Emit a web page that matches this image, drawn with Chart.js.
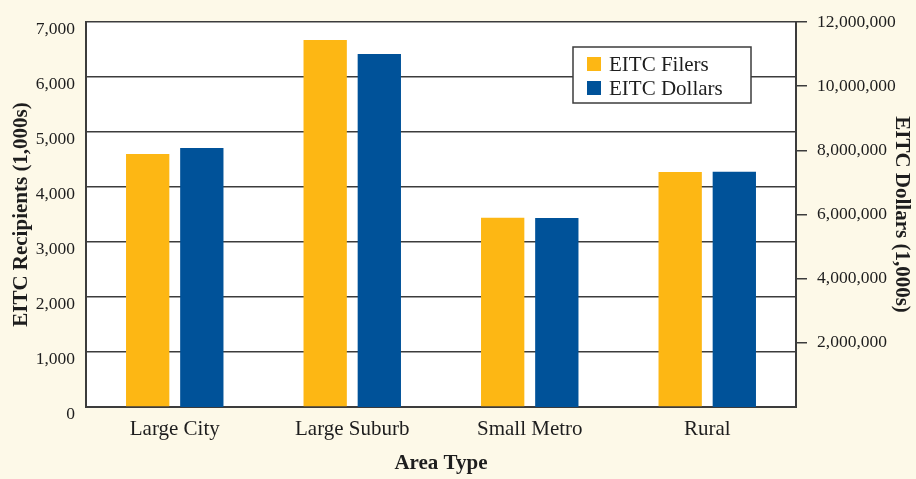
<!DOCTYPE html>
<html>
<head>
<meta charset="utf-8">
<script src="https://cdn.jsdelivr.net/npm/chart.js@4.4.1/dist/chart.umd.min.js"></script>
<style>
  html, body { margin: 0; padding: 0; background: #fdf9e8; }
  #wrap { width: 916px; height: 479px; }
</style>
</head>
<body>
<div id="wrap"><canvas id="myChart" width="916" height="479"></canvas></div>
<script>
/* Data */
const areaTypes = ['Large City', 'Large Suburb', 'Small Metro', 'Rural'];
const filers = [4600, 6675, 3440, 4275];              // 1,000s of recipients
const dollars = [8070000, 11000000, 5890000, 7330000]; // 1,000s of dollars

/* Colors */
let colorGold = '#fdb714';
let colorBlue = '#005299';
let colorLine = '#3c3c3c';
let colorText = '#1e1e1e';
const serif = "'Liberation Serif', 'DejaVu Serif', serif";

// white plot background
const plotBg = {
  id: 'plotBg',
  beforeDraw(chart) {
    const { ctx, chartArea: a } = chart;
    ctx.save();
    ctx.fillStyle = '#ffffff';
    ctx.fillRect(a.left, a.top, a.right - a.left, a.bottom - a.top);
    ctx.restore();
  },
};

// boxed legend inside the plot
const boxLegend = {
  id: 'boxLegend',
  afterDraw(chart) {
    const { ctx } = chart;
    const x = 573, y = 47, w = 178, h = 56;
    ctx.save();
    ctx.fillStyle = '#ffffff';
    ctx.fillRect(x, y, w, h);
    ctx.strokeStyle = colorLine;
    ctx.lineWidth = 1.5;
    ctx.strokeRect(x, y, w, h);
    ctx.font = '21px ' + serif;
    ctx.textBaseline = 'middle';
    chart.data.datasets.forEach((ds, i) => {
      const cy = y + 17 + i * 24;
      ctx.fillStyle = ds.backgroundColor;
      ctx.fillRect(x + 14, cy - 7, 14, 14);
      ctx.fillStyle = colorText;
      ctx.fillText(ds.label, x + 36, cy + 1);
    });
    ctx.restore();
  },
};

const data = {
  labels: areaTypes,
  datasets: [
    {
      label: 'EITC Filers',
      data: filers,
      backgroundColor: colorGold,
      yAxisID: 'y',
      categoryPercentage: 0.61,
      barPercentage: 0.8,
    },
    {
      label: 'EITC Dollars',
      data: dollars,
      backgroundColor: colorBlue,
      yAxisID: 'y2',
      categoryPercentage: 0.61,
      barPercentage: 0.8,
    },
  ],
};

const chartConfig = {
  type: 'bar',
  data,
  plugins: [plotBg, boxLegend],
  options: {
    responsive: false,
    animation: false,
    layout: { padding: { top: 22, left: 0, right: 0, bottom: 0 } },
    plugins: {
      legend: { display: false },
      tooltip: { enabled: false },
    },
    scales: {
      x: {
        grid: { display: false, drawTicks: false },
        border: { display: true, color: colorLine, width: 2 },
        ticks: { color: colorText, padding: 10, font: { family: serif, size: 21 } },
        title: {
          display: true,
          text: 'Area Type',
          color: colorText,
          font: { family: serif, size: 21, weight: 'bold' },
          padding: { top: 0, bottom: 3 },
        },
        afterFit(scale) { scale.height = 72; },
      },
      y: {
        position: 'left',
        min: 0,
        max: 7000,
        ticks: {
          stepSize: 1000,
          color: colorText,
          padding: 11,
          labelOffset: 7,
          font: { family: serif, size: 17.5 },
          callback: (v) => v.toLocaleString('en-US'),
        },
        grid: { color: colorLine, lineWidth: 1.5, drawTicks: false },
        border: { display: true, color: colorLine, width: 2 },
        title: {
          display: true,
          text: 'EITC Recipients (1,000s)',
          color: colorText,
          font: { family: serif, size: 21, weight: 'bold' },
          padding: { top: 9, bottom: 0 },
        },
        afterFit(scale) { scale.width = 86; },
      },
      y2: {
        position: 'right',
        min: 0,
        max: 12000000,
        ticks: {
          stepSize: 2000000,
          color: colorText,
          padding: 10,
          font: { family: serif, size: 17.5 },
          callback: (v) => (v === 0 ? null : v.toLocaleString('en-US')),
        },
        grid: { drawOnChartArea: false, color: colorLine, lineWidth: 1.5, tickLength: 11 },
        border: { display: true, color: colorLine, width: 2 },
        title: {
          display: true,
          text: 'EITC Dollars (1,000s)',
          color: colorText,
          font: { family: serif, size: 21, weight: 'bold' },
          padding: { top: 2, bottom: 0 },
        },
        afterFit(scale) { scale.width = 120; },
      },
    },
  },
};

const ctx = document.getElementById('myChart').getContext('2d');
const myChart = new Chart(ctx, chartConfig);
</script>
</body>
</html>
